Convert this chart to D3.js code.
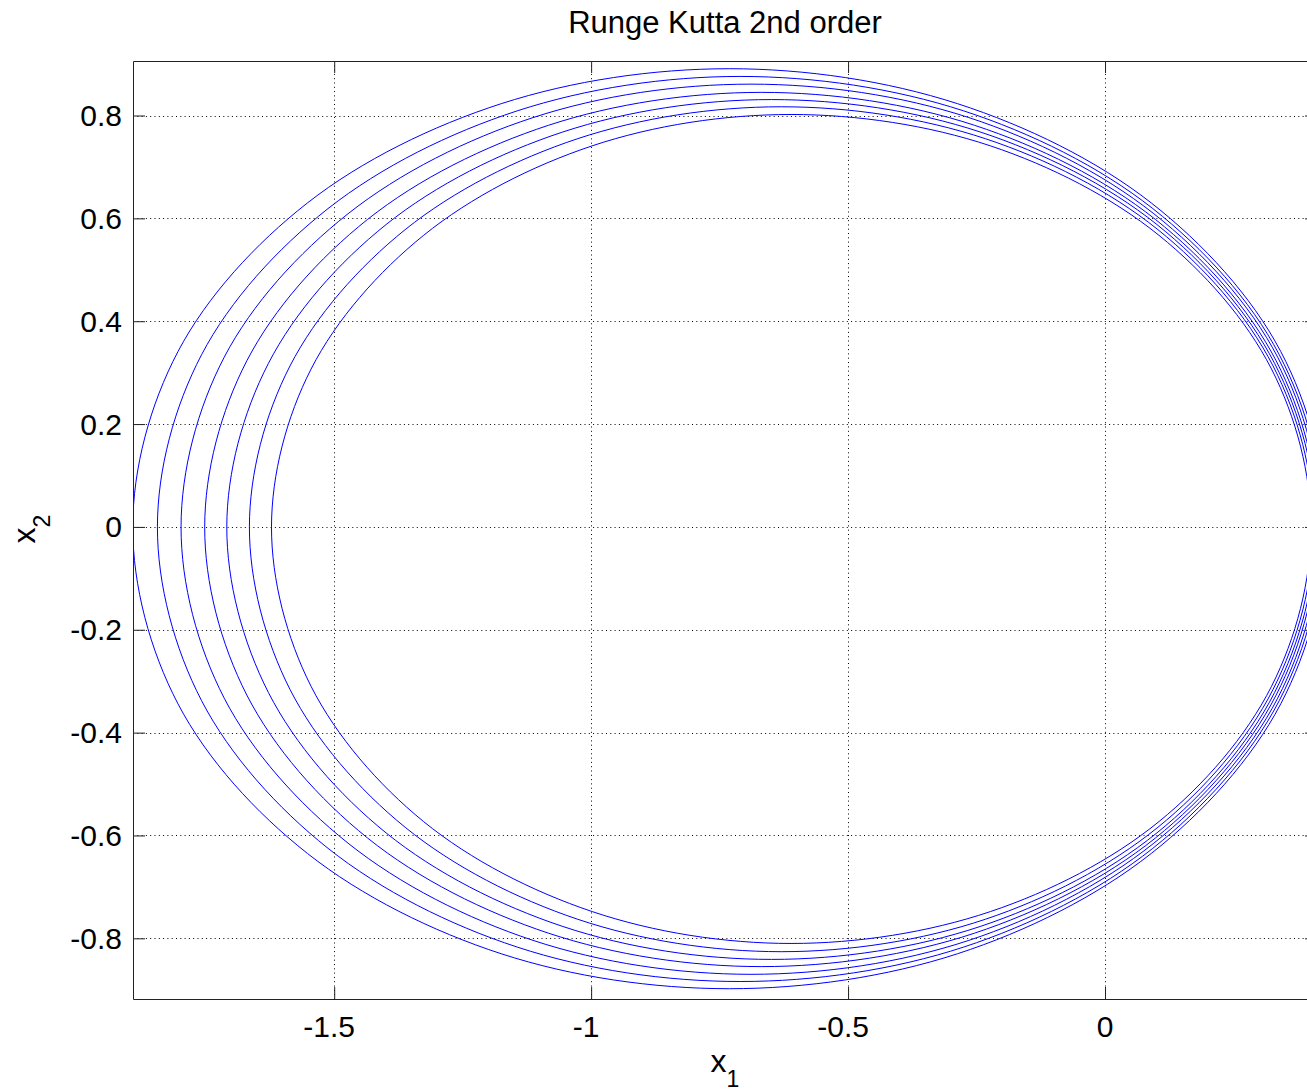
<!DOCTYPE html>
<html lang="en">
<head>
<meta charset="utf-8">
<title>Runge Kutta 2nd order</title>
<script src="https://d3js.org/d3.v7.min.js"></script>
<style>
  body { margin: 0; background: #fff; }
  text { font-family: "Liberation Sans", Arial, Helvetica, sans-serif; fill: #000; }
</style>
</head>
<body>
<div id="chart"></div>
<script>
// ticks
const xTicks = [-1.5, -1, -0.5, 0];
const xTickLabels = ["-1.5", "-1", "-0.5", "0"];
const yTicks = [-0.8, -0.6, -0.4, -0.2, 0, 0.2, 0.4, 0.6, 0.8];
const yTickLabels = ["-0.8", "-0.6", "-0.4", "-0.2", "0", "0.2", "0.4", "0.6", "0.8"];

// phase trajectory, one array per loop (outermost first).
// each entry: [x1, x2 on the upper branch, x2 on the lower branch], from the right tip to the left tip
const loop1 = [[0.430, 0, 0], [0.342, 0.341, -0.344], [0.090, 0.630, -0.635], [-0.287, 0.823, -0.830],
               [-0.731, 0.891, -0.898], [-1.175, 0.823, -0.830], [-1.552, 0.630, -0.635], [-1.804, 0.341, -0.344], [-1.892, 0, 0]];
const loop2 = [[0.425, 0, 0], [0.339, 0.335, -0.338], [0.093, 0.619, -0.625], [-0.275, 0.809, -0.817],
               [-0.710, 0.876, -0.884], [-1.144, 0.809, -0.817], [-1.512, 0.619, -0.625], [-1.758, 0.335, -0.338], [-1.844, 0, 0]];
const loop3 = [[0.420, 0, 0], [0.336, 0.330, -0.333], [0.095, 0.609, -0.615], [-0.265, 0.796, -0.804],
               [-0.689, 0.861, -0.870], [-1.113, 0.796, -0.804], [-1.473, 0.609, -0.615], [-1.714, 0.330, -0.333], [-1.798, 0, 0]];
const loop4 = [[0.415, 0, 0], [0.333, 0.323, -0.327], [0.098, 0.598, -0.605], [-0.254, 0.781, -0.790],
               [-0.669, 0.845, -0.855], [-1.083, 0.781, -0.790], [-1.435, 0.598, -0.605], [-1.670, 0.323, -0.327], [-1.752, 0, 0]];
const loop5 = [[0.411, 0, 0], [0.330, 0.318, -0.322], [0.101, 0.588, -0.595], [-0.243, 0.768, -0.777],
               [-0.649, 0.831, -0.841], [-1.055, 0.768, -0.777], [-1.399, 0.588, -0.595], [-1.628, 0.318, -0.322], [-1.709, 0, 0]];
const loop6 = [[0.406, 0, 0], [0.327, 0.313, -0.316], [0.103, 0.578, -0.584], [-0.233, 0.755, -0.763],
               [-0.630, 0.817, -0.826], [-1.026, 0.755, -0.763], [-1.362, 0.578, -0.584], [-1.586, 0.313, -0.316], [-1.665, 0, 0]];
const loop7 = [[0.401, 0, 0], [0.324, 0.307, -0.310], [0.105, 0.567, -0.573], [-0.223, 0.741, -0.748],
               [-0.611, 0.802, -0.810], [-0.998, 0.741, -0.748], [-1.326, 0.567, -0.573], [-1.545, 0.307, -0.310], [-1.622, 0, 0]];
const loops = [loop1, loop2, loop3, loop4, loop5, loop6, loop7];

const W = 1307, H = 1091;
const box = {left: 133, right: 1317, top: 61, bottom: 999};

const svg = d3.select("#chart").append("svg")
    .attr("width", W).attr("height", H)
    .style("display", "block");

const x = d3.scaleLinear().domain([-1.8915, 0.4125]).range([box.left, box.right]);
const y = d3.scaleLinear().domain([-0.918, 0.906]).range([box.bottom, box.top]);

// dotted grid
svg.append("g").selectAll("line").data(xTicks).join("line")
    .attr("x1", d => Math.round(x(d)) + 0.5).attr("x2", d => Math.round(x(d)) + 0.5)
    .attr("y1", box.top).attr("y2", box.bottom)
    .attr("stroke", "#000").attr("stroke-width", 1).attr("stroke-dasharray", "1,3.3");
svg.append("g").selectAll("line").data(yTicks).join("line")
    .attr("y1", d => Math.round(y(d)) + 0.5).attr("y2", d => Math.round(y(d)) + 0.5)
    .attr("x1", box.left).attr("x2", box.right)
    .attr("stroke", "#000").attr("stroke-width", 1).attr("stroke-dasharray", "1,3.3");

// trajectory
svg.append("clipPath").attr("id", "clip").append("rect")
    .attr("x", box.left).attr("y", box.top)
    .attr("width", box.right - box.left).attr("height", box.bottom - box.top);

// upper branch right->left, then lower branch back left->right
const ring = loop => loop.map(d => [d[0], d[1]])
    .concat(loop.slice(1, -1).reverse().map(d => [d[0], d[2]]));

const line = d3.line()
    .x(d => x(d[0])).y(d => y(d[1]))
    .curve(d3.curveCatmullRomClosed.alpha(0.5));

svg.append("g").attr("clip-path", "url(#clip)")
  .selectAll("path").data(loops).join("path")
    .attr("d", d => line(ring(d)))
    .attr("fill", "none")
    .attr("stroke", "#0000ff")
    .attr("stroke-width", 1);

// box and inward ticks
const axisColor = "#222";
svg.append("g").attr("transform", `translate(0,${box.bottom})`)
    .call(d3.axisBottom(x).tickValues(xTicks).tickSizeInner(-12).tickSizeOuter(0).tickFormat(""));
svg.append("g").attr("transform", `translate(0,${box.top})`)
    .call(d3.axisTop(x).tickValues(xTicks).tickSizeInner(-12).tickSizeOuter(0).tickFormat(""));
svg.append("g").attr("transform", `translate(${box.left},0)`)
    .call(d3.axisLeft(y).tickValues(yTicks).tickSizeInner(-12).tickSizeOuter(0).tickFormat(""));
svg.append("g").attr("transform", `translate(${box.right},0)`)
    .call(d3.axisRight(y).tickValues(yTicks).tickSizeInner(-12).tickSizeOuter(0).tickFormat(""));
svg.selectAll(".domain, .tick line").attr("stroke", axisColor);

// tick labels (minus sign hangs outside the centred number, as in the original)
xTicks.forEach((v, i) => {
  const lab = xTickLabels[i];
  const neg = lab.startsWith("-");
  const t = svg.append("text")
      .attr("x", x(v)).attr("y", 1037)
      .attr("text-anchor", "middle").attr("font-size", 30)
      .text(neg ? lab.slice(1) : lab);
  if (neg) {
    const w = t.node().getComputedTextLength();
    svg.append("text")
        .attr("x", x(v) - w / 2).attr("y", 1037)
        .attr("text-anchor", "end").attr("font-size", 30)
        .text("-");
  }
});
svg.append("g").selectAll("text").data(yTicks).join("text")
    .attr("x", 122).attr("y", d => y(d) + 10.5)
    .attr("text-anchor", "end").attr("font-size", 30)
    .text((d, i) => yTickLabels[i]);

// title and axis labels
svg.append("text")
    .attr("x", (box.left + box.right) / 2).attr("y", 33)
    .attr("text-anchor", "middle").attr("font-size", 31)
    .text("Runge Kutta 2nd order");

const xl = svg.append("text")
    .attr("x", (box.left + box.right) / 2).attr("y", 1072)
    .attr("text-anchor", "middle").attr("font-size", 32);
xl.append("tspan").text("x");
xl.append("tspan").attr("font-size", 23).attr("dy", 15).text("1");

const yl = svg.append("text")
    .attr("transform", `translate(35,529) rotate(-90)`)
    .attr("text-anchor", "middle").attr("font-size", 32);
yl.append("tspan").text("x");
yl.append("tspan").attr("font-size", 23).attr("dy", 15).text("2");
</script>
</body>
</html>
